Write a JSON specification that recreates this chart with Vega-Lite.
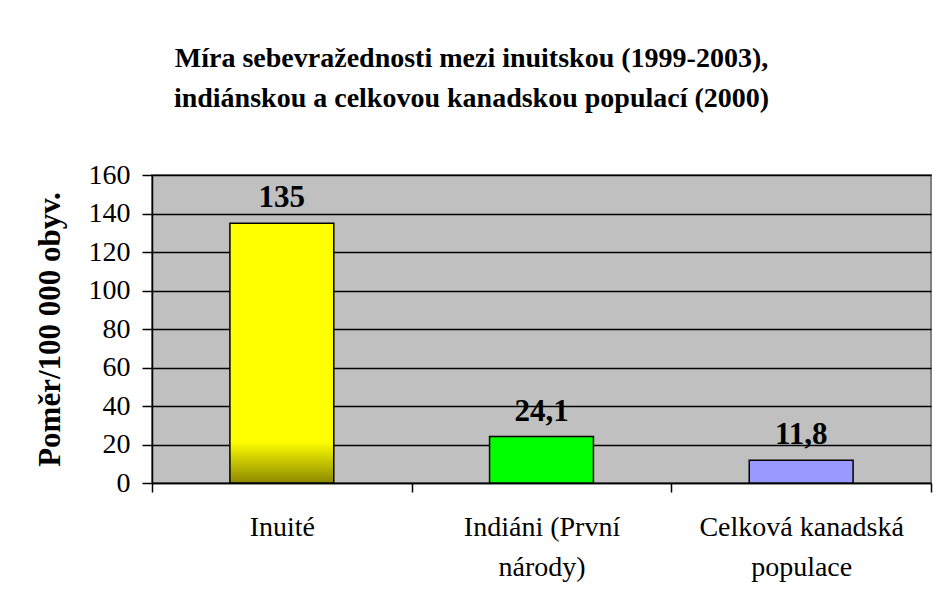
{
  "$schema": "https://vega.github.io/schema/vega-lite/v6.json",
  "autosize": "none",
  "width": 779,
  "height": 308,
  "padding": {"left": 152, "top": 175, "right": 5, "bottom": 127},
  "background": "white",
  "title": {
    "text": ["Míra sebevražednosti mezi inuitskou (1999-2003),", "indiánskou a celkovou kanadskou populací (2000)"],
    "font": "Liberation Serif",
    "fontSize": 28,
    "fontWeight": "bold",
    "color": "black",
    "anchor": "middle",
    "dx": -70,
    "offset": 48,
    "lineHeight": 40
  },
  "data": {
    "values": [
      {"skupina": "Inuité", "mira": 135},
      {"skupina": "Indiáni (První národy)", "mira": 24.1},
      {"skupina": "Celková kanadská populace", "mira": 11.8}
    ]
  },
  "encoding": {
    "x": {
      "field": "skupina",
      "type": "nominal",
      "sort": null,
      "scale": {"paddingInner": 0, "paddingOuter": 0},
      "axis": {
        "title": null,
        "labelAngle": 0,
        "labelFont": "Liberation Serif",
        "labelFontSize": 28,
        "labelColor": "black",
        "labelLineHeight": 40,
        "labelPadding": 21,
        "labelBaseline": "top",
        "labelLimit": 0,
        "labelExpr": "datum.value == 'Indiáni (První národy)' ? ['Indiáni (První', 'národy)'] : datum.value == 'Celková kanadská populace' ? ['Celková kanadská', 'populace'] : datum.value",
        "tickBand": "extent",
        "tickSize": 9,
        "tickColor": "black",
        "tickWidth": 1.5,
        "domainColor": "black",
        "domainWidth": 1.5
      }
    },
    "y": {
      "field": "mira",
      "type": "quantitative",
      "scale": {"domain": [0, 160], "nice": false},
      "axis": {
        "title": "Poměr/100 000 obyv.",
        "titleFont": "Liberation Serif",
        "titleFontSize": 31,
        "titleFontWeight": "bold",
        "titleColor": "black",
        "titlePadding": 22,
        "values": [0, 20, 40, 60, 80, 100, 120, 140, 160],
        "labelFont": "Liberation Serif",
        "labelFontSize": 28,
        "labelColor": "black",
        "labelPadding": 12,
        "tickSize": 10,
        "tickColor": "black",
        "tickWidth": 1.5,
        "domainColor": "black",
        "domainWidth": 1.5,
        "grid": true,
        "gridColor": "black",
        "gridWidth": 1.5,
        "gridOpacity": 1
      }
    }
  },
  "layer": [
    {
      "transform": [{"filter": "datum.skupina == 'Inuité'"}],
      "mark": {
        "type": "bar",
        "width": {"band": 0.4},
        "stroke": "black",
        "strokeWidth": 1.5,
        "fill": {
          "gradient": "linear",
          "x1": 0, "y1": 0, "x2": 0, "y2": 1,
          "stops": [
            {"offset": 0, "color": "#FFFF00"},
            {"offset": 0.84, "color": "#FFFF00"},
            {"offset": 1, "color": "#8C8800"}
          ]
        }
      }
    },
    {
      "transform": [{"filter": "datum.skupina != 'Inuité'"}],
      "mark": {"type": "bar", "width": {"band": 0.4}, "stroke": "black", "strokeWidth": 1.5},
      "encoding": {
        "color": {
          "field": "skupina",
          "type": "nominal",
          "scale": {"domain": ["Indiáni (První národy)", "Celková kanadská populace"], "range": ["#00FF00", "#9999FF"]},
          "legend": null
        }
      }
    },
    {
      "mark": {
        "type": "text",
        "font": "Liberation Serif",
        "fontSize": 31,
        "fontWeight": "bold",
        "color": "black",
        "baseline": "alphabetic",
        "dy": -16
      },
      "encoding": {
        "text": {"field": "mira", "type": "quantitative", "format": ".1~f"}
      }
    }
  ],
  "config": {
    "locale": {"number": {"decimal": ",", "thousands": " ", "grouping": [3], "currency": ["", " Kč"]}},
    "view": {"fill": "#C0C0C0", "stroke": "#808080", "strokeWidth": 2}
  }
}
